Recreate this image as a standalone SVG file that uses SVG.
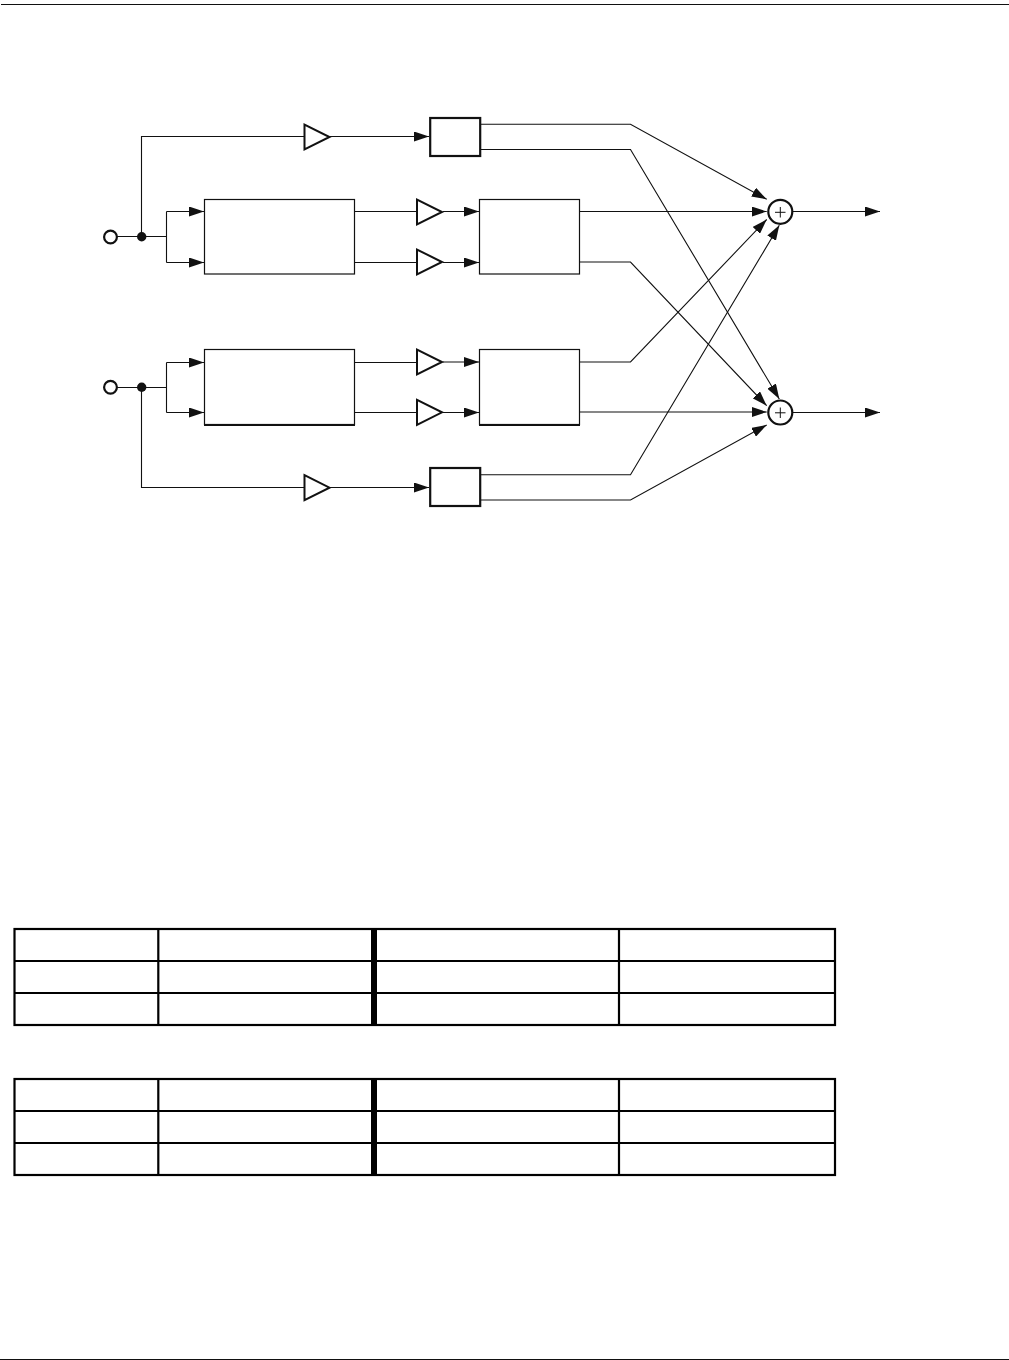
<svg xmlns="http://www.w3.org/2000/svg" width="1009" height="1360" viewBox="0 0 1009 1360">
<style>
.w{fill:none;stroke:#111;stroke-width:1.1}
.p{fill:none;stroke:#111;stroke-width:1}
.b{fill:#fff;stroke:#111;stroke-width:1.2}
.t{fill:#fff;stroke:#111;stroke-width:2}
.h{fill:#fff;stroke:#111;stroke-width:2.2}
.a{fill:none;stroke:#111;stroke-width:1.1;marker-end:url(#ah)}
.s{fill:#fff;stroke:#111;stroke-width:2.2}
.g{fill:none;stroke:#000;stroke-width:2.2}
.k{fill:none;stroke:#000;stroke-width:6}
</style>
<defs>
<marker id="ah" markerUnits="userSpaceOnUse" markerWidth="16" markerHeight="10" refX="15" refY="5" orient="auto"><path d="M0 0L15 5L0 10z" fill="#111"/></marker>
</defs>
<rect width="1009" height="1360" fill="#fff"/>
<path d="M1 4.5H1009M0 1359.5H1009" fill="none" stroke="#111" stroke-width="1.2"/>
<g id="connectors">
<path class="w" d="M116 236.5H166.5M141.5 236.5V136.5H304M166.5 211.5V262.5M116 387.5H166.5M141.5 387.5V487.5H304M166.5 362.5V412.5"/>
<path class="a" d="M166.5 211.5H204"/>
<path class="a" d="M166.5 262.5H204"/>
<path class="a" d="M166.5 362.5H204"/>
<path class="a" d="M166.5 412.5H204"/>
<path class="a" d="M330 136.5H429"/>
<path class="a" d="M330 487.5H429"/>
<path class="w" d="M354.5 211.5H416M354.5 262.5H416M354.5 362.5H416M354.5 412.5H416"/>
<path class="a" d="M443 211.5H479"/>
<path class="a" d="M443 262.5H479"/>
<path class="a" d="M443 362H479"/>
<path class="a" d="M443 412.5H479"/>
<path class="a" d="M480 124.3H630.5L766.7 199.3"/>
<path class="a" d="M480 149.5H630.5L779.3 399"/>
<path class="a" d="M579.5 211.5H766.7"/>
<path class="a" d="M579.5 262H630.5L766.7 405.7"/>
<path class="a" d="M579.5 362H630.5L766.7 219.5"/>
<path class="a" d="M579.5 412H766.7"/>
<path class="a" d="M480 474.8H630.5L779.3 225.3"/>
<path class="a" d="M480 500H630.5L766.7 425"/>
<path class="a" d="M793 211.5H880"/>
<path class="a" d="M793 412.5H880"/>
</g>
<g id="in1"><circle class="s" cx="110.5" cy="237" r="6.4"/></g>
<g id="in2"><circle class="s" cx="110.5" cy="387.2" r="6.4"/></g>
<g id="dot1"><circle cx="141.7" cy="236.7" r="4.7" fill="#111"/></g>
<g id="dot2"><circle cx="141.7" cy="387.3" r="4.7" fill="#111"/></g>
<g id="amp1"><path class="t" d="M304.5 124.5V149.5L329.5 137z"/></g>
<g id="amp2"><path class="t" d="M417 199.5V224.5L442 212z"/></g>
<g id="amp3"><path class="t" d="M417 249.5V274.5L442 262z"/></g>
<g id="amp4"><path class="t" d="M417 349.5V374.5L442 362z"/></g>
<g id="amp5"><path class="t" d="M417 399.8V424.8L442 412.3z"/></g>
<g id="amp6"><path class="t" d="M304.5 475.2V500.2L329.5 487.7z"/></g>
<g id="delay1"><rect class="h" x="430.2" y="118" width="50" height="38"/></g>
<g id="delay2"><rect class="h" x="430.2" y="468" width="50" height="38"/></g>
<g id="filter1"><rect class="b" x="204.5" y="199.5" width="150" height="74.5"/></g>
<g id="filter2"><rect class="b" x="204.5" y="349.5" width="150" height="75"/><path d="M204 425H355" fill="none" stroke="#111" stroke-width="2"/></g>
<g id="mix1"><rect class="b" x="479.5" y="199.5" width="100" height="74.5"/></g>
<g id="mix2"><rect class="b" x="479.5" y="349.5" width="100" height="75"/><path d="M479 425H580" fill="none" stroke="#111" stroke-width="2"/></g>
<g id="sum1"><circle class="s" cx="780.3" cy="211.8" r="12"/><path class="p" d="M775 212.3H785.5M780.3 207V217.5"/></g>
<g id="sum2"><circle class="s" cx="780.3" cy="412.5" r="12"/><path class="p" d="M775 412.8H785.5M780.3 407.5V418"/></g>
<g id="table1">
<rect class="g" x="14.5" y="929" width="820.5" height="96"/>
<path class="g" d="M14 961H835M14 993H835M158.3 929V1025M619 929V1025"/>
<path class="k" d="M374 928V1026"/>
</g>
<g id="table2">
<rect class="g" x="14.5" y="1079" width="820.5" height="96"/>
<path class="g" d="M14 1111H835M14 1143H835M158.3 1079V1175M619 1079V1175"/>
<path class="k" d="M374 1078V1176"/>
</g>
</svg>
